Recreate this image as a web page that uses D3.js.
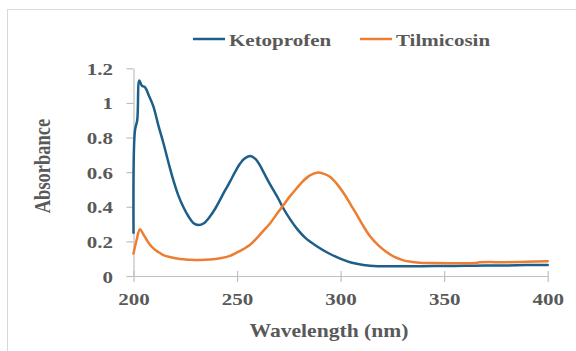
<!DOCTYPE html>
<html>
<head>
<meta charset="utf-8">
<script src="https://cdn.jsdelivr.net/npm/d3@7"></script>
<style>
  html, body { margin: 0; padding: 0; background: #fff; }
  svg { display: block; }
</style>
</head>
<body>
<svg id="chart" width="576" height="351"></svg>
<script>
// UV absorbance spectra (wavelength in nm, absorbance)
const ketoWavelength = [200, 200.7, 201.8, 202.8, 204, 205.6, 207.5, 209.6, 212, 214.4, 217, 219.2, 221.5, 224, 226.5, 229, 231.3, 234, 237, 239.5, 241.8, 244, 246.6, 249, 251.4, 253.5, 256.3, 259, 261, 263, 265, 267.5, 270, 272.4, 275.5, 278.8, 283, 288.5, 294, 299.8, 305, 311, 318, 330, 340, 350, 360, 370, 380, 390, 400];
const ketoAbsorbance = [0.25, 0.84, 0.90, 1.13, 1.10, 1.09, 1.04, 0.98, 0.87, 0.77, 0.65, 0.555, 0.47, 0.40, 0.345, 0.305, 0.295, 0.305, 0.345, 0.39, 0.44, 0.49, 0.545, 0.60, 0.648, 0.678, 0.694, 0.675, 0.64, 0.595, 0.55, 0.497, 0.445, 0.39, 0.33, 0.275, 0.22, 0.172, 0.133, 0.10, 0.078, 0.064, 0.057, 0.056, 0.057, 0.058, 0.059, 0.060, 0.061, 0.063, 0.064];

const tilWavelength = [200, 201.5, 203.1, 204.8, 206.4, 208, 209.6, 212, 214.4, 218, 222.5, 227, 232, 237, 241.8, 246.6, 249.8, 253, 256.3, 260, 263, 266, 269, 272.4, 275.5, 278.8, 282, 285, 288.5, 292, 295, 298, 301.5, 305, 308, 311, 314.5, 318, 322, 326, 330, 334, 338, 345, 355, 365, 367, 380, 390, 400];
const tilAbsorbance = [0.13, 0.208, 0.27, 0.24, 0.208, 0.18, 0.16, 0.138, 0.121, 0.108, 0.098, 0.094, 0.092, 0.095, 0.102, 0.116, 0.135, 0.155, 0.18, 0.225, 0.265, 0.305, 0.355, 0.41, 0.46, 0.507, 0.55, 0.58, 0.597, 0.59, 0.572, 0.535, 0.478, 0.41, 0.35, 0.288, 0.225, 0.18, 0.14, 0.11, 0.092, 0.082, 0.077, 0.075, 0.074, 0.075, 0.079, 0.080, 0.082, 0.085];

const seriesNames = ["Ketoprofen", "Tilmicosin"];
const seriesColors = ["#1d5f8a", "#ed7d31"];
const xTickValues = [200, 250, 300, 350, 400];
const yTickValues = [0, 0.2, 0.4, 0.6, 0.8, 1, 1.2];
const yTickLabels = ["0", "0.2", "0.4", "0.6", "0.8", "1", "1.2"];
const xTitle = "Wavelength (nm)";
const yTitle = "Absorbance";

const svg = d3.select("#chart");
const FONT = "'Liberation Serif', 'Times New Roman', serif";
const TEXT = "#595959";
const AXIS = "#bfbfbf";
const STRETCH = 1.2; // horizontal stretch of the glyphs

// chart frame
svg.append("rect")
  .attr("x", 7.5).attr("y", 9.5)
  .attr("width", 640).attr("height", 400)
  .attr("fill", "#fff").attr("stroke", "#d9d9d9").attr("stroke-width", 1);

const x = d3.scaleLinear().domain([200, 400]).range([133.5, 547.7]);
const y = d3.scaleLinear().domain([0, 1.2]).range([276, 68.3]);

// y axis
const gy = svg.append("g").attr("transform", `translate(${x.range()[0]},0)`)
  .call(d3.axisLeft(y).tickValues(yTickValues).tickSize(7).tickSizeOuter(0)
    .tickFormat((d, i) => yTickLabels[i]));
gy.select(".domain").attr("stroke", AXIS).attr("stroke-width", 1.2);
gy.selectAll(".tick line").attr("stroke", AXIS).attr("stroke-width", 1.2);
gy.selectAll(".tick text")
  .attr("x", -17.1).attr("dy", null).attr("y", 6)
  .attr("transform", `scale(${STRETCH},1)`)
  .attr("fill", TEXT).attr("font-family", FONT)
  .attr("font-weight", "bold").attr("font-size", 17.5);

// x axis (tick marks cross the axis line)
const gx = svg.append("g").attr("transform", `translate(0,${y(0)})`)
  .call(d3.axisBottom(x).tickValues(xTickValues).tickSize(6).tickSizeOuter(0)
    .tickFormat(d3.format("d")));
gx.select(".domain").attr("stroke", AXIS).attr("stroke-width", 1.2);
gx.selectAll(".tick line").attr("stroke", AXIS).attr("stroke-width", 1.2)
  .attr("y1", -5).attr("y2", 6);
gx.selectAll(".tick text")
  .attr("y", 29).attr("dy", null)
  .attr("transform", `scale(${STRETCH},1)`)
  .attr("fill", TEXT).attr("font-family", FONT)
  .attr("font-weight", "bold").attr("font-size", 17.5);

// spectra
const line = d3.line()
  .x(d => x(d[0])).y(d => y(d[1]))
  .curve(d3.curveCatmullRom.alpha(0.5));

const series = [
  d3.zip(ketoWavelength, ketoAbsorbance),
  d3.zip(tilWavelength, tilAbsorbance)
];

svg.selectAll("path.spectrum")
  .data(series)
  .join("path")
  .attr("class", "spectrum")
  .attr("d", line)
  .attr("fill", "none")
  .attr("stroke", (d, i) => seriesColors[i])
  .attr("stroke-width", 2.5)
  .attr("stroke-linejoin", "round")
  .attr("stroke-linecap", "round");

// axis titles
svg.append("text")
  .attr("transform", `translate(329,337) scale(${STRETCH},1)`)
  .attr("text-anchor", "middle")
  .attr("fill", TEXT).attr("font-family", FONT)
  .attr("font-weight", "bold").attr("font-size", 18)
  .text(xTitle);

svg.append("text")
  .attr("transform", `translate(49.5,166) rotate(-90) scale(1,${STRETCH})`)
  .attr("text-anchor", "middle")
  .attr("fill", TEXT).attr("font-family", FONT)
  .attr("font-weight", "bold").attr("font-size", 18.5)
  .text(yTitle);

// legend
const legendX = [193, 360];
const legend = svg.selectAll("g.legend")
  .data(seriesNames)
  .join("g")
  .attr("class", "legend")
  .attr("transform", (d, i) => `translate(${legendX[i]},39)`);
legend.append("line")
  .attr("x1", 0).attr("x2", 32).attr("y1", 0).attr("y2", 0)
  .attr("stroke", (d, i) => seriesColors[i]).attr("stroke-width", 2.5);
legend.append("text")
  .attr("transform", `translate(36,7) scale(${STRETCH},1)`)
  .attr("fill", TEXT).attr("font-family", FONT)
  .attr("font-weight", "bold").attr("font-size", 17.5)
  .text(d => d);
</script>
</body>
</html>
